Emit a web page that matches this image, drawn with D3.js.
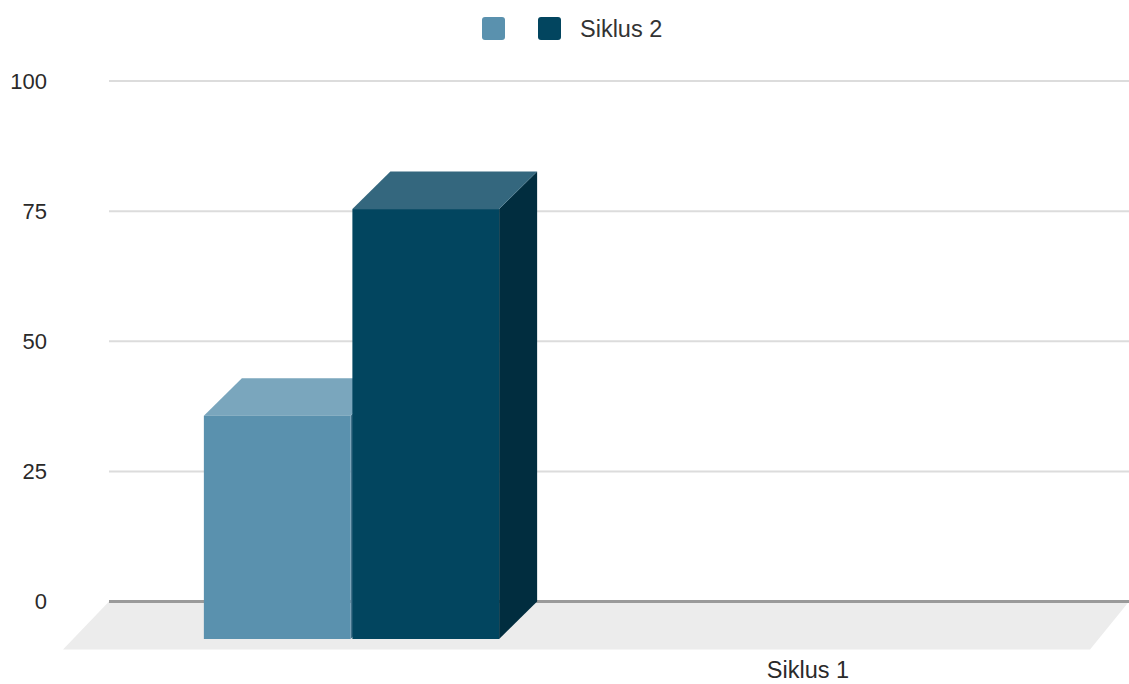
<!DOCTYPE html>
<html>
<head>
<meta charset="utf-8">
<script src="https://cdn.jsdelivr.net/npm/d3@7"></script>
<style>
  html, body { margin: 0; padding: 0; background: #fff; }
  svg { display: block; font-family: "Liberation Sans", Arial, sans-serif; }
</style>
</head>
<body>
<svg id="chart" width="1129" height="684"></svg>
<script>
// ---- data ----
const categories = ["Siklus 1"];
const seriesNames = ["", "Siklus 2"];
const seriesValues = [[42.9], [82.6]]; // one array per series, per category
const yTicks = [0, 25, 50, 75, 100];

// ---- styles ----
const seriesColors = [
  { front: "#5a91ae", top: "#7aa6bd", side: "#3f6f88" },
  { front: "#02455f", top: "#34677e", side: "#012d3f" }
];

const W = 1129, H = 684;
const plotLeft = 109, plotRight = 1129;
const svg = d3.select("#chart");

const y = d3.scaleLinear().domain([0, 100]).range([601.5, 81]);
const xCat = d3.scaleBand().domain(categories)
  .range([plotLeft, plotLeft + (plotRight - plotLeft) * 0.55])
  .paddingInner(0).paddingOuter(0.45);
const xSer = d3.scaleBand().domain(seriesNames.map((d, i) => i))
  .range([0, xCat.bandwidth()]).paddingInner(0.012);

// depth offsets (front relative to back plane)
const floorDx = -46, floorDy = 48;
const barDx = -38, barDy = 37.5;

// floor
const y0 = y(0);
svg.append("polygon")
  .attr("points", [
    [plotLeft, y0], [plotRight, y0],
    [plotRight + floorDx + 7, y0 + floorDy], [plotLeft + floorDx, y0 + floorDy]
  ].map(p => p.join(",")).join(" "))
  .attr("fill", "#ececec");

// gridlines
svg.append("g").selectAll("line").data(yTicks.filter(t => t !== 0)).join("line")
  .attr("x1", plotLeft).attr("x2", plotRight)
  .attr("y1", d => y(d)).attr("y2", d => y(d))
  .attr("stroke", "#dcdcdc").attr("stroke-width", 2);

// zero line
svg.append("line")
  .attr("x1", plotLeft).attr("x2", plotRight)
  .attr("y1", y0).attr("y2", y0)
  .attr("stroke", "#9a9a9a").attr("stroke-width", 3);

// y labels
svg.append("g").selectAll("text").data(yTicks).join("text")
  .attr("x", 47).attr("y", d => y(d))
  .attr("dy", "0.36em")
  .attr("text-anchor", "end")
  .attr("font-size", 22)
  .attr("fill", "#2a2a2a")
  .text(d => d);

// bars
const bars = [];
categories.forEach((c, ci) => {
  seriesNames.forEach((s, si) => {
    bars.push({ c, si, v: seriesValues[si][ci] });
  });
});
const pts = a => a.map(p => p.join(",")).join(" ");
const gb = svg.append("g");
bars.forEach(b => {
  const bx = xCat(b.c) + xSer(b.si);           // back-plane left
  const bw = xSer.bandwidth();
  const by = y(b.v), bb = y(0);
  const fx = bx + barDx, fy = by + barDy, fb = bb + barDy;
  const col = seriesColors[b.si];
  const g = gb.append("g");
  // side
  g.append("polygon").attr("fill", col.side)
    .attr("points", pts([[fx + bw, fy], [bx + bw, by], [bx + bw, bb], [fx + bw, fb]]));
  // top
  g.append("polygon").attr("fill", col.top)
    .attr("points", pts([[fx, fy], [fx + bw, fy], [bx + bw, by], [bx, by]]));
  // front
  g.append("rect").attr("fill", col.front)
    .attr("x", fx).attr("y", fy).attr("width", bw).attr("height", fb - fy);
});

// x label
svg.append("text")
  .attr("x", 808).attr("y", 678)
  .attr("text-anchor", "middle")
  .attr("font-size", 23.5)
  .attr("fill", "#2a2a2a")
  .text(categories[0]);

// legend
const legendX = [482, 538];
const lg = svg.append("g");
seriesNames.forEach((s, i) => {
  lg.append("rect")
    .attr("x", legendX[i]).attr("y", 17)
    .attr("width", 23).attr("height", 23).attr("rx", 3)
    .attr("fill", seriesColors[i].front);
  if (s) {
    lg.append("text")
      .attr("x", legendX[i] + 42).attr("y", 37)
      .attr("font-size", 23.5)
      .attr("fill", "#333")
      .text(s);
  }
});
</script>
</body>
</html>
